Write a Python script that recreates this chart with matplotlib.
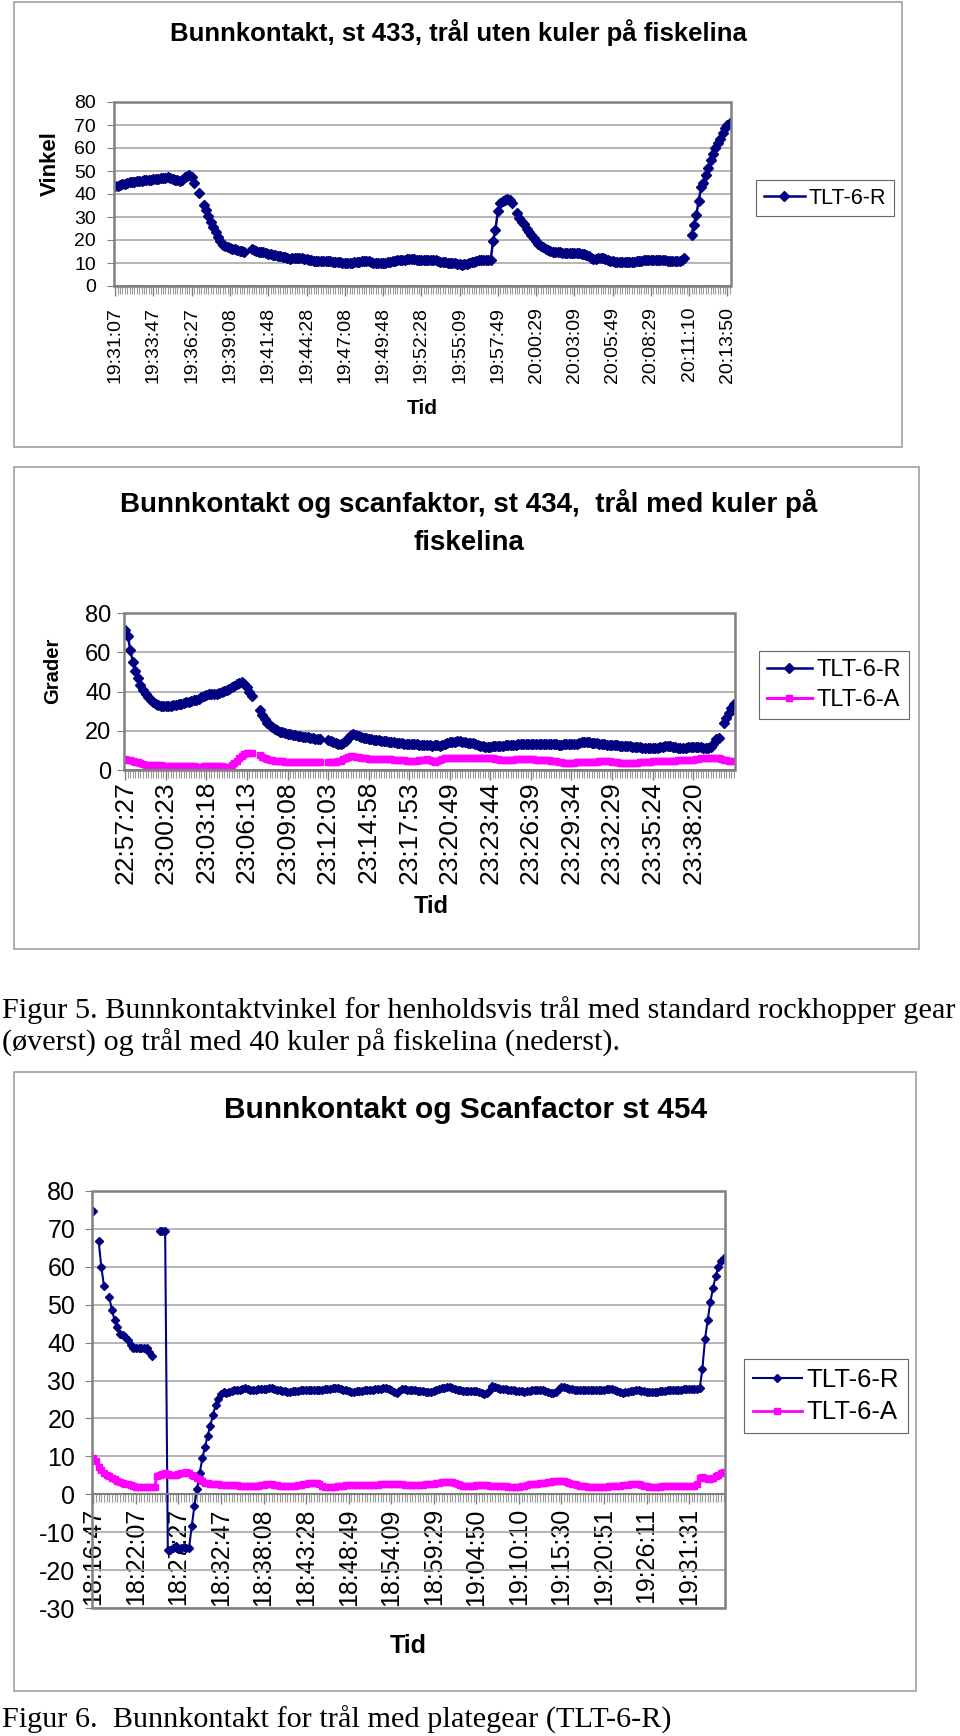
import matplotlib
matplotlib.use("Agg")
import matplotlib.pyplot as plt
from matplotlib.patches import Rectangle

nan = float("nan")

# ---- st 433: TLT-6-R, one value per logged sample (blank cells = nan)
st433_labels = ["19:31:07", "19:33:47", "19:36:27", "19:39:08", "19:41:48", "19:44:28",
                "19:47:08", "19:49:48", "19:52:28", "19:55:09", "19:57:49", "20:00:29",
                "20:03:09", "20:05:49", "20:08:29", "20:11:10", "20:13:50"]
st433_r = [43.3, 43.6, 43.9, 44.2, 44.5, 44.8, 45.1, 45.3, 45.4, 45.5,
           45.6, 45.8, 45.9, 46.0, 46.1, 46.2, 46.4, 46.6, 46.7, 46.9,
           47.0, 47.1, 47.2, 47.0, 46.7, 46.3, 45.9, 45.5, 46.2, 47.5,
           48.0, 48.3, 47.2, 44.8, nan, 40.4, nan, 35.4, 33.0, 30.5,
           28.0, 25.5, 23.5, 21.5, 19.5, 18.0, 17.2, 16.8, 16.4, 16.2,
           15.9, 15.6, 15.4, 15.2, 15.0, nan, nan, 15.9, 15.8, 15.4,
           15.0, 14.8, 14.6, 14.3, 14.0, 13.7, 13.6, 13.4, 13.2, 13.0,
           12.8, 12.5, 12.2, 11.9, 12.0, 12.1, 12.2, 12.2, 12.1, 11.9,
           11.7, 11.5, 11.3, 11.0, 10.8, 10.7, 10.7, 10.8, 10.9, 10.8,
           10.7, 10.6, 10.5, 10.5, 10.4, 10.2, 10.0, 9.9, 10.1, 10.2,
           10.3, 10.4, 10.6, 10.8, 11.0, 11.0, 10.8, 10.5, 10.2, 10.0,
           9.9, 9.9, 9.9, 10.1, 10.3, 10.5, 10.7, 10.9, 11.1, 11.3,
           11.4, 11.5, 11.6, 11.7, 11.6, 11.6, 11.5, 11.4, 11.3, 11.3,
           11.2, 11.3, 11.3, 11.3, 11.1, 10.9, 10.6, 10.4, 10.3, 10.2,
           10.1, 10.0, 9.9, 9.7, 9.5, 9.3, 9.4, 9.7, 10.0, 10.4,
           10.6, 10.9, 11.1, 11.3, 11.3, 11.2, 11.3, 11.4, 19.4, 24.5,
           32.5, 36.0, 36.8, 37.5, 38.0, 37.3, 36.0, nan, 31.7, 29.5,
           28.0, 26.8, 24.8, 23.5, 22.0, 20.9, 19.5, 18.3, 17.6, 16.8,
           16.0, 15.6, 15.3, 15.0, 14.8, 14.7, 14.6, 14.5, 14.4, 14.3,
           14.3, 14.3, 14.3, 14.3, 14.2, 14.1, 13.9, 13.4, 12.9, 12.3,
           11.9, 11.9, 12.0, 12.2, 12.2, 11.9, 11.5, 11.0, 10.7, 10.6,
           10.5, 10.4, 10.4, 10.4, 10.5, 10.5, 10.6, 10.6, 10.7, 10.8,
           10.9, 11.1, 11.2, 11.3, 11.4, 11.4, 11.3, 11.3, 11.2, 11.2,
           11.1, 11.0, 10.9, 10.8, 10.7, 10.7, 10.8, 11.2, 12.0, nan,
           nan, 22.3, 26.7, 31.0, 37.1, 42.9, 44.8, 48.4, 51.3, 54.9,
           57.5, 60.0, 62.0, 64.0, 66.5, 68.5, 69.8, 70.9]

# ---- st 434: TLT-6-R and TLT-6-A
st434_labels = ["22:57:27", "23:00:23", "23:03:18", "23:06:13", "23:09:08", "23:12:03",
                "23:14:58", "23:17:53", "23:20:49", "23:23:44", "23:26:39", "23:29:34",
                "23:32:29", "23:35:24", "23:38:20"]
st434_r = [71.5, 68.5, 61.0, 55.0, 50.6, 46.8, 43.5, 41.0, 38.8, 37.0,
           35.6, 34.6, 33.8, 33.1, 32.7, 32.5, 32.5, 32.5, 32.6, 32.9,
           33.2, 33.4, 33.7, 34.1, 34.5, 34.9, 35.2, 35.5, 35.9, 36.3,
           37.0, 37.8, 38.4, 38.6, 38.7, 38.8, 38.9, 39.2, 39.7, 40.3,
           40.9, 41.5, 42.2, 43.0, 43.8, 44.5, 45.0, 44.0, 42.5, 39.5,
           37.5, nan, nan, 30.5, 28.0, 26.0, 24.2, 22.9, 21.8, 20.9,
           20.2, 19.6, 19.2, 18.8, 18.4, 18.1, 17.9, 17.6, 17.4, 17.2,
           17.0, 16.8, 16.6, 16.4, 16.2, 16.0, 15.8, 15.7, nan, nan,
           15.2, 14.8, 14.4, 14.0, 13.5, 13.0, 13.6, 15.0, 16.5, 17.8,
           18.4, 18.0, 17.4, 16.9, 16.5, 16.2, 16.0, 15.8, 15.5, 15.3,
           15.1, 14.9, 14.7, 14.6, 14.4, 14.2, 14.1, 13.9, 13.8, 13.6,
           13.5, 13.4, 13.3, 13.2, 13.1, 13.0, 12.9, 12.8, 12.7, 12.6,
           12.5, 12.4, 12.6, 12.5, 12.4, 12.6, 13.2, 13.8, 14.1, 14.3,
           14.5, 14.9, 14.8, 14.5, 14.2, 14.0, 13.8, 13.6, 13.2, 12.8,
           12.4, 12.0, 11.7, 11.8, 11.9, 12.0, 12.1, 12.1, 12.2, 12.4,
           12.5, 12.6, 12.7, 12.8, 12.9, 13.0, 13.1, 13.1, 13.2, 13.2,
           13.3, 13.3, 13.4, 13.4, 13.4, 13.4, 13.4, 13.3, 13.2, 13.1,
           13.0, 12.9, 12.9, 13.0, 13.1, 13.2, 13.4, 13.4, 13.5, 13.8,
           14.1, 14.3, 14.4, 14.2, 14.0, 13.8, 13.6, 13.4, 13.2, 13.0,
           12.9, 12.8, 12.7, 12.6, 12.5, 12.4, 12.3, 12.2, 12.1, 12.0,
           11.9, 11.7, 11.6, 11.5, 11.4, 11.3, 11.3, 11.2, 11.2, 11.2,
           11.4, 11.6, 11.8, 12.0, 12.1, 12.0, 11.8, 11.6, 11.4, 11.2,
           11.2, 11.4, 11.5, 11.6, 11.7, 11.7, 11.6, 11.5, 11.4, 11.3,
           11.2, 11.5, 13.0, 15.7, 16.2, nan, 23.8, 26.5, 28.8, 31.5,
           33.8]
st434_a = [5.4, 5.2, 4.9, 4.5, 4.2, 3.9, 3.5, 3.1, 2.8, 2.7,
           2.6, 2.5, 2.4, 2.3, 2.3, 2.2, 2.2, 2.1, 2.1, 2.0,
           2.0, 2.0, 2.0, 1.9, 1.9, 1.8, 1.8, 1.8, 1.7, 1.7,
           1.7, 1.8, 1.9, 2.0, 2.0, 2.0, 2.0, 2.0, 1.9, 1.7,
           1.5, 1.5, 2.5, 3.7, 4.5, 6.2, 7.0, 8.4, 8.6, 8.7,
           8.7, nan, nan, 7.4, 6.8, 6.2, 5.7, 5.3, 5.0, 4.8,
           4.6, 4.5, 4.4, 4.3, 4.3, 4.2, 4.1, 4.1, 4.0, 4.0,
           4.0, 4.0, 4.1, 4.1, 4.2, 4.2, 4.2, 4.2, nan, nan,
           4.0, 4.1, 4.2, 4.3, 4.5, 4.8, 5.5, 6.2, 6.8, 7.0,
           7.0, 6.8, 6.5, 6.2, 6.0, 5.9, 5.8, 5.7, 5.7, 5.6,
           5.6, 5.5, 5.5, 5.4, 5.4, 5.4, 5.3, 5.2, 5.1, 5.0,
           4.9, 4.7, 4.6, 4.5, 4.6, 4.8, 5.0, 5.2, 5.3, 5.4,
           5.2, 4.6, 4.0, 4.4, 5.0, 5.5, 6.0, 6.2, 6.2, 6.2,
           6.1, 6.0, 6.0, 6.1, 6.2, 6.2, 6.2, 6.2, 6.3, 6.3,
           6.2, 6.2, 6.2, 6.2, 6.2, 6.0, 5.8, 5.5, 5.2, 5.0,
           5.0, 5.0, 5.1, 5.3, 5.5, 5.6, 5.7, 5.7, 5.7, 5.7,
           5.6, 5.5, 5.3, 5.1, 5.0, 5.0, 5.0, 5.0, 4.8, 4.6,
           4.4, 4.2, 4.0, 3.8, 3.7, 3.7, 3.7, 3.8, 3.9, 4.0,
           4.0, 4.0, 4.0, 4.0, 3.9, 4.0, 4.2, 4.4, 4.5, 4.5,
           4.5, 4.5, 4.3, 4.1, 3.9, 3.8, 3.7, 3.7, 3.7, 3.7,
           3.7, 3.7, 3.8, 3.9, 4.0, 4.1, 4.2, 4.3, 4.4, 4.5,
           4.5, 4.5, 4.5, 4.5, 4.5, 4.6, 4.7, 4.8, 4.9, 5.0,
           5.0, 5.0, 5.0, 5.1, 5.3, 5.5, 5.7, 5.9, 6.1, 6.2,
           6.2, 6.2, 6.2, 6.2, 6.0, 5.5, 5.2, 5.0, 4.8, 4.6,
           4.5]

# ---- st 454: TLT-6-R and TLT-6-A
st454_labels = ["18:16:47", "18:22:07", "18:27:27", "18:32:47", "18:38:08", "18:43:28",
                "18:48:49", "18:54:09", "18:59:29", "19:04:50", "19:10:10", "19:15:30",
                "19:20:51", "19:26:11", "19:31:31"]
st454_r = [74.6, nan, 66.8, 60.0, 55.0, nan, 52.0, 48.5, 46.0, 44.0,
           42.4, 42.0, 41.5, 40.6, 39.5, 38.6, 38.5, 38.6, 38.6, 38.7,
           38.6, 37.5, 36.5, nan, nan, 69.5, 69.5, 69.5, -14.6, -14.8,
           -14.2, -13.7, -14.5, -14.3, -14.0, -14.2, -14.1, -8.4, -3.1, 1.5,
           5.7, 9.5, 12.5, 15.5, 18.1, 21.0, 23.5, 25.2, 26.4, 26.9,
           26.7, 27.0, 27.3, 27.5, 27.6, 27.6, 27.8, 28.0, 27.7, 27.4,
           27.5, 27.6, 27.7, 27.7, 27.8, 27.9, 28.0, 28.0, 27.8, 27.6,
           27.5, 27.3, 27.2, 27.1, 27.1, 27.2, 27.3, 27.3, 27.4, 27.4,
           27.5, 27.5, 27.6, 27.6, 27.6, 27.5, 27.6, 27.7, 27.8, 27.9,
           28.0, 28.0, 28.0, 27.8, 27.6, 27.4, 27.2, 27.1, 27.1, 27.2,
           27.3, 27.3, 27.4, 27.5, 27.6, 27.6, 27.7, 27.8, 27.9, 28.0,
           28.0, 27.8, 27.5, 27.1, 26.7, 27.3, 27.8, 27.8, 27.6, 27.5,
           27.4, 27.4, 27.3, 27.3, 27.2, 27.1, 27.0, 27.0, 27.2, 27.5,
           27.8, 28.0, 28.1, 28.2, 28.2, 28.0, 27.8, 27.6, 27.4, 27.3,
           27.2, 27.2, 27.3, 27.3, 27.2, 27.0, 26.8, 26.5, 26.7, 27.6,
           28.5, 28.2, 28.0, 27.9, 27.8, 27.7, 27.6, 27.5, 27.4, 27.3,
           27.2, 27.2, 27.1, 27.2, 27.3, 27.4, 27.5, 27.5, 27.5, 27.4,
           27.2, 27.0, 26.8, 26.7, 27.1, 27.7, 28.3, 28.2, 28.0, 27.8,
           27.7, 27.6, 27.6, 27.6, 27.5, 27.5, 27.4, 27.4, 27.4, 27.4,
           27.4, 27.5, 27.6, 27.7, 27.8, 27.9, 27.6, 27.3, 27.0, 26.8,
           26.9, 27.1, 27.2, 27.3, 27.4, 27.4, 27.3, 27.2, 27.1, 27.0,
           26.9, 27.0, 27.1, 27.2, 27.3, 27.3, 27.4, 27.4, 27.5, 27.5,
           27.6, 27.6, 27.7, 27.7, 27.7, 27.8, 27.8, 27.8, 28.0, 33.1,
           41.0, 46.0, 50.7, 54.5, 57.5, 60.0, 61.5, 62.4]
st454_a = [9.7, 8.8, 7.2, 6.3, 5.6, 5.1, 4.7, 4.3, 4.0, 3.6,
           3.3, 3.1, 2.8, 2.6, 2.4, 2.2, 2.0, 1.8, 1.8, 1.8,
           1.9, 2.0, 2.0, 2.0, 4.9, 5.2, 5.4, 5.7, 5.4, 5.0,
           5.0, 5.1, 5.3, 5.5, 5.7, 5.9, 5.6, 5.2, 4.9, 4.4,
           3.9, 3.4, 3.1, 2.9, 2.8, 2.7, 2.6, 2.6, 2.5, 2.5,
           2.4, 2.4, 2.4, 2.4, 2.4, 2.3, 2.3, 2.3, 2.2, 2.2,
           2.2, 2.2, 2.3, 2.4, 2.5, 2.6, 2.6, 2.6, 2.5, 2.4,
           2.3, 2.2, 2.2, 2.2, 2.2, 2.2, 2.3, 2.4, 2.5, 2.6,
           2.8, 3.0, 3.1, 3.1, 2.9, 2.6, 2.3, 2.0, 1.8, 1.8,
           1.9, 2.0, 2.1, 2.2, 2.3, 2.4, 2.4, 2.4, 2.4, 2.4,
           2.4, 2.4, 2.4, 2.4, 2.4, 2.4, 2.5, 2.5, 2.6, 2.6,
           2.6, 2.6, 2.7, 2.7, 2.6, 2.6, 2.6, 2.5, 2.5, 2.4,
           2.4, 2.4, 2.4, 2.5, 2.5, 2.6, 2.6, 2.6, 2.7, 2.9,
           3.1, 3.2, 3.3, 3.3, 3.3, 3.2, 3.0, 2.7, 2.4, 2.2,
           2.2, 2.2, 2.3, 2.3, 2.4, 2.4, 2.4, 2.4, 2.4, 2.3,
           2.2, 2.2, 2.2, 2.2, 2.1, 2.1, 2.0, 2.0, 2.0, 2.0,
           2.0, 2.1, 2.2, 2.4, 2.6, 2.8, 2.8, 2.8, 2.9, 3.0,
           3.1, 3.2, 3.3, 3.4, 3.5, 3.5, 3.5, 3.4, 3.2, 3.0,
           2.8, 2.6, 2.4, 2.3, 2.2, 2.1, 2.0, 1.9, 1.8, 1.8,
           1.8, 1.8, 1.9, 2.0, 2.1, 2.2, 2.2, 2.2, 2.3, 2.4,
           2.5, 2.5, 2.6, 2.6, 2.6, 2.6, 2.5, 2.3, 2.1, 1.9,
           1.8, 1.8, 1.9, 2.0, 2.1, 2.2, 2.2, 2.2, 2.2, 2.2,
           2.2, 2.2, 2.2, 2.2, 2.2, 2.2, 2.3, 2.8, 4.4, 4.6,
           4.2, 4.0, 4.1, 4.4, 4.9, 5.2, 5.7, 5.8]

W, H = 960, 1736
NAVY = "#000080"
MAGENTA = "#FF00FF"
GRID = "#A8A8A8"
EDGE = "#808080"

plt.rcParams["font.family"] = ["Liberation Sans", "DejaVu Sans"]
plt.rcParams["axes.unicode_minus"] = False
fig = plt.figure(figsize=(W / 100, H / 100), dpi=100)


def fx(x):
    return x / W


def fy(y):
    return 1 - y / H


def frame(x0, y0, x1, y1):
    fig.patches.append(Rectangle((fx(x0), fy(y1)), (x1 - x0) / W, (y1 - y0) / H,
                                 transform=fig.transFigure, fill=False,
                                 edgecolor="#a0a0a0", lw=1.2))


def chart(x0, y0, x1, y1, n, labels, ymin, ymax, ystep, fs, xfs, xpad, ypad,
          cross_zero=False):
    ax = fig.add_axes([fx(x0), fy(y1), (x1 - x0) / W, (y1 - y0) / H])
    if cross_zero:
        # category axis crosses the value axis at 0 (set before ticks: it resets them)
        ax.spines["bottom"].set_position(("data", 0))
    ax.set_xlim(-0.5, n - 0.5)
    ax.set_ylim(ymin, ymax)
    ax.set_yticks(range(ymin, ymax + 1, ystep))
    ax.set_xticks(range(0, 16 * len(labels), 16))
    ax.set_xticklabels(labels, rotation=90)
    ax.set_xticks(range(n), minor=True)
    ax.tick_params(axis="x", which="major", length=7, width=1, color=EDGE,
                   labelsize=xfs, pad=xpad)
    ax.tick_params(axis="x", which="minor", length=6, width=0.8, color="#9a9a9a")
    ax.tick_params(axis="y", length=5, color=EDGE, labelsize=fs, pad=ypad)
    ax.yaxis.grid(True, color=GRID, lw=1.2)
    ax.set_axisbelow(True)
    for s in ["top", "right", "left"]:
        ax.spines[s].set_visible(False)
    ax.spines["bottom"].set_color(EDGE)
    ax.spines["bottom"].set_linewidth(1.5)
    ax.add_patch(Rectangle((0, 0), 1, 1, transform=ax.transAxes, fill=False,
                           edgecolor=EDGE, lw=1.8, clip_on=False, zorder=5))
    return ax


def legend(ax, cx, cy, fs):
    leg = ax.legend(loc="center", bbox_to_anchor=(fx(cx), fy(cy)),
                    bbox_transform=fig.transFigure, fontsize=fs, frameon=True,
                    fancybox=False, edgecolor="#404040", borderpad=0.35,
                    handlelength=1.9, handletextpad=0.2, labelspacing=0.35,
                    borderaxespad=0)
    leg.get_frame().set_linewidth(0.8)


# ---------------- chart 1: st 433
frame(14, 2, 902, 447)
fig.text(fx(458), fy(33), "Bunnkontakt, st 433, trål uten kuler på fiskelina",
         ha="center", va="center", fontsize=18.5, fontweight="bold")
ax1 = chart(114, 102, 731, 286, len(st433_r), st433_labels, 0, 80, 10, 14, 14, 8, 8)
ax1.plot(range(len(st433_r)), st433_r, color=NAVY, lw=1.8, marker="D", ms=4.6,
         label="TLT-6-R")
legend(ax1, 825, 198, 15.5)
fig.text(fx(50), fy(164), "Vinkel", rotation=90, ha="center", va="center",
         fontsize=16, fontweight="bold")
fig.text(fx(422), fy(409), "Tid", ha="center", va="center", fontsize=15,
         fontweight="bold")

# ---------------- chart 2: st 434
frame(14, 467, 919, 949)
fig.text(fx(469), fy(504), "Bunnkontakt og scanfaktor, st 434,  trål med kuler på",
         ha="center", va="center", fontsize=20, fontweight="bold")
fig.text(fx(469), fy(543), "fiskelina", ha="center", va="center", fontsize=20,
         fontweight="bold")
ax2 = chart(124, 613, 735, 770, len(st434_r), st434_labels, 0, 80, 20, 17, 19, 1, 4)
ax2.plot(range(len(st434_r)), st434_r, color=NAVY, lw=1.8, marker="D", ms=4.6,
         label="TLT-6-R")
ax2.plot(range(len(st434_a)), st434_a, color=MAGENTA, lw=2.2, marker="s", ms=4.4,
         label="TLT-6-A")
legend(ax2, 834, 685, 17)
fig.text(fx(53), fy(671), "Grader", rotation=90, ha="center", va="center",
         fontsize=14.5, fontweight="bold")
fig.text(fx(431), fy(906), "Tid", ha="center", va="center", fontsize=17,
         fontweight="bold")

# ---------------- caption 5
serif = ["Liberation Serif", "DejaVu Serif"]
fig.text(fx(2), fy(1010),
         "Figur 5. Bunnkontaktvinkel for henholdsvis trål med standard rockhopper gear",
         ha="left", va="center", fontsize=21.8, family=serif)
fig.text(fx(2), fy(1043), "(øverst) og trål med 40 kuler på fiskelina (nederst).",
         ha="left", va="center", fontsize=21.8, family=serif)

# ---------------- chart 3: st 454
frame(14, 1072, 916, 1691)
fig.text(fx(466), fy(1110), "Bunnkontakt og Scanfactor st 454", ha="center",
         va="center", fontsize=21.5, fontweight="bold")
ax3 = chart(92, 1191, 725, 1608, len(st454_r), st454_labels, -30, 80, 10, 18, 18, 3, 7,
            cross_zero=True)
ax3.plot(range(len(st454_r)), st454_r, color=NAVY, lw=1.5, marker="D", ms=3.6,
         label="TLT-6-R")
ax3.plot(range(len(st454_a)), st454_a, color=MAGENTA, lw=2.0, marker="s", ms=3.8,
         label="TLT-6-A")
legend(ax3, 826, 1396, 18.5)
fig.text(fx(408), fy(1646), "Tid", ha="center", va="center", fontsize=18,
         fontweight="bold")

# ---------------- caption 6
fig.text(fx(2), fy(1720), "Figur 6.  Bunnkontakt for trål med plategear (TLT-6-R)",
         ha="left", va="center", fontsize=21.8, family=serif)

fig.savefig("out.png", dpi=100)
